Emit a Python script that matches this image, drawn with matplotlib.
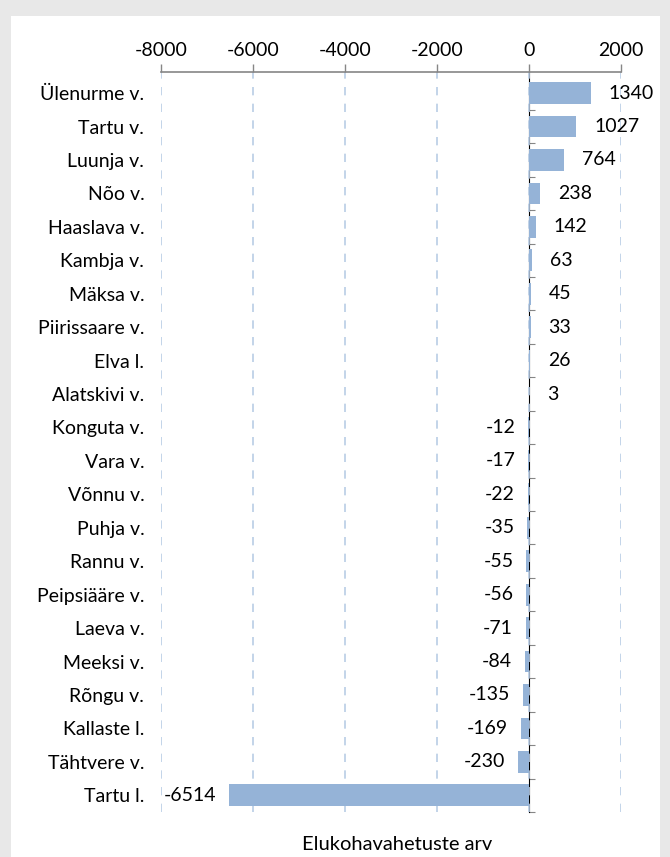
import matplotlib
matplotlib.use("Agg")
import matplotlib.pyplot as plt
from matplotlib.patches import Rectangle

# andmed ülevalt alla
vallad = ["Ülenurme v.", "Tartu v.", "Luunja v.", "Nõo v.", "Haaslava v.", "Kambja v.",
          "Mäksa v.", "Piirissaare v.", "Elva l.", "Alatskivi v.", "Konguta v.", "Vara v.",
          "Võnnu v.", "Puhja v.", "Rannu v.", "Peipsiääre v.", "Laeva v.", "Meeksi v.",
          "Rõngu v.", "Kallaste l.", "Tähtvere v.", "Tartu l."]
saldo = [1340, 1027, 764, 238, 142, 63, 45, 33, 26, 3, -12, -17, -22, -35, -55, -56,
         -71, -84, -135, -169, -230, -6514]
x_ticks = [-8000, -6000, -4000, -2000, 0, 2000]

plt.rcParams['font.family'] = ['Lato', 'DejaVu Sans']
plt.rcParams['axes.unicode_minus'] = False

fig = plt.figure(figsize=(6.7, 8.57), dpi=100)
fig.patch.set_facecolor('#e8e8e8')
fig.patches.append(Rectangle((11 / 670, 0), 649 / 670, 1 - 16 / 857, transform=fig.transFigure,
                             facecolor='white', edgecolor='none', zorder=-5))

ax = fig.add_axes([161 / 670, 1 - 812 / 857, 460 / 670, 740 / 857])
ax.set_facecolor('none')

n = len(vallad)
pos = list(range(n - 1, -1, -1))
ax.barh(pos, saldo, height=0.65, color='#95b3d7', zorder=2)

# väärtuste sildid
for y, v in zip(pos, saldo):
    if v >= 0:
        ax.annotate(str(v), (v, y), xytext=(18, 0), textcoords='offset pixels',
                    ha='left', va='center', fontsize=14)
    else:
        ax.annotate(str(v), (v, y), xytext=(-13, 0), textcoords='offset pixels',
                    ha='right', va='center', fontsize=14)

ax.set_xlim(-8000, 2000)
ax.set_ylim(-0.5, 21.63)
ax.set_xticks(x_ticks)
ax.xaxis.tick_top()
ax.tick_params(axis='x', direction='out', length=6, width=1, color='#868686',
               labelsize=14, pad=3)
ax.grid(axis='x', color='#b9cde5', linestyle=(0, (5, 5)), linewidth=1.2, zorder=1)

ax.set_yticks(pos)
ax.set_yticklabels(vallad, fontsize=14)
ax.tick_params(axis='y', length=0, pad=12)

for s in ['left', 'right', 'bottom']:
    ax.spines[s].set_visible(False)
ax.spines['top'].set_color('#868686')
ax.spines['top'].set_linewidth(1.2)

# null-telg koos jaotuskriipsudega
sec = ax.secondary_yaxis(0.8)
sec.set_yticks([p - 0.5 for p in range(n)])
sec.set_yticklabels([])
sec.tick_params(direction='out', length=4, color='#868686')
sec.spines['left'].set_color('#868686')
sec.spines['left'].set_linewidth(1.2)

fig.text(397 / 670, 1 - 845 / 857, 'Elukohavahetuste arv', ha='center', va='center', fontsize=14.5)

fig.savefig('out.png', dpi=100)
